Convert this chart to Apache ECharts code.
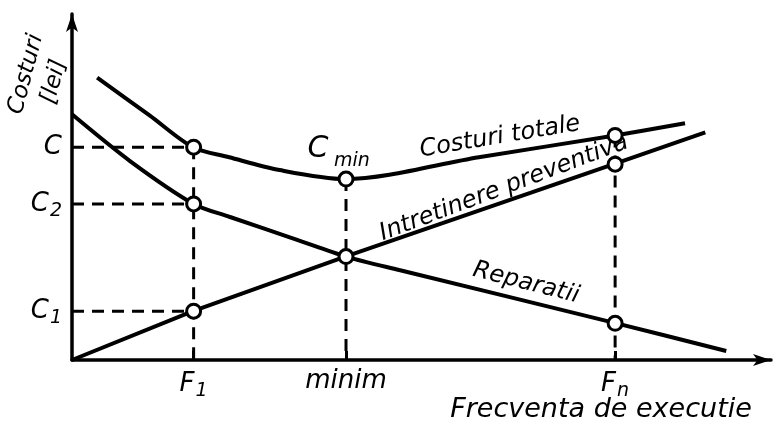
<!DOCTYPE html>
<html>
<head>
<meta charset="utf-8">
<script src="https://cdn.jsdelivr.net/npm/echarts@6/dist/echarts.min.js"></script>
<style>
html, body { margin: 0; padding: 0; background: #fff; }
#chart { width: 779px; height: 434px; }
</style>
</head>
<body>
<div id="chart"></div>
<script>
// frecventa (x) si costuri (y), in unitati relative 0..100
let totalX = [3.6, 11.1, 17.3, 22.5, 29.7, 39.1, 58.2, 77.7, 87.7];
let totalY = [81.6, 70.7, 61.5, 58.6, 54.9, 52.3, 58.6, 64.9, 68.4];
let preventX = [0, 17.3, 39.1, 77.5, 90.6];
let preventY = [0, 14.1, 29.9, 56.6, 65.8];
let repairX = [0, 8.3, 17.4, 22.5, 32.1, 39.2, 46.8, 77.9, 93.6];
let repairY = [71.0, 57.5, 45.1, 41.4, 34.8, 29.9, 26.0, 10.6, 2.6];

let xTicks = [17.4, 39.2, 77.7];
let xTickLabels = ['{b|F}{s|1}', '{b|minim}', '{b|F}{s|n}'];
let yTicks = [61.5, 45.1, 14.1];
let yTickLabels = ['{b|C}', '{b|C}{s|2}', '{b|C}{s|1}'];
let guideTop = [61.5, 52.3, 64.9]; // unde se opresc liniile punctate verticale

// cerculetele
let pointsX = [17.4, 17.4, 17.4, 39.2, 39.2, 77.7, 77.7, 77.7];
let pointsY = [61.5, 45.1, 14.1, 52.3, 29.9, 64.9, 56.6, 10.6];

let chartDom = document.getElementById('chart');
let myChart = echarts.init(chartDom);
let font = 'DejaVu Sans';

function zip(xs, ys) {
    return xs.map(function (x, i) { return [x, ys[i]]; });
}

let curveStyle = { color: '#000', width: 4 };
let dashStyle = { color: '#000', width: 3, type: [12, 8] };

let series = [
    { name: 'Costuri totale', type: 'line', data: zip(totalX, totalY), smooth: 0.3, showSymbol: false, lineStyle: curveStyle, z: 3 },
    { name: 'Intretinere preventiva', type: 'line', data: zip(preventX, preventY), smooth: false, showSymbol: false, lineStyle: curveStyle, z: 3 },
    { name: 'Reparatii', type: 'line', data: zip(repairX, repairY), smooth: 0.3, showSymbol: false, lineStyle: curveStyle, z: 3 }
];

// linii punctate orizontale (C, C2, C1) pana la F1
yTicks.forEach(function (y) {
    series.push({ type: 'line', data: [[0, y], [xTicks[0], y]], showSymbol: false, lineStyle: dashStyle, z: 2, silent: true });
});
// linii punctate verticale
xTicks.forEach(function (x, i) {
    series.push({ type: 'line', data: [[x, guideTop[i]], [x, 0]], showSymbol: false, lineStyle: dashStyle, z: 2, silent: true });
});

series.push({
    type: 'scatter',
    data: zip(pointsX, pointsY),
    symbol: 'circle',
    symbolSize: 14,
    itemStyle: { color: '#fff', borderColor: '#000', borderWidth: 3, opacity: 1 },
    z: 5
});

let textStyle = { fontFamily: font, fontStyle: 'italic', fill: '#000' };
let labelRich = {
    b: { fontFamily: font, fontStyle: 'italic', fontSize: 26, color: '#000' },
    s: { fontFamily: font, fontStyle: 'italic', fontSize: 19, color: '#000', padding: [14, 0, 0, 1] }
};

let option = {
    animation: false,
    backgroundColor: '#fff',
    grid: { left: 72, right: 8, top: 14, bottom: 74 },
    xAxis: {
        type: 'value',
        min: 0,
        max: 100,
        splitLine: { show: false },
        axisLine: { show: true, lineStyle: { color: '#000', width: 3.5 }, symbol: ['none', 'arrow'], symbolSize: [9, 18] },
        axisTick: { show: true, inside: true, length: 9, customValues: xTicks, lineStyle: { color: '#000', width: 3 } },
        axisLabel: {
            customValues: xTicks,
            margin: 8,
            rich: labelRich,
            formatter: function (v) { return xTickLabels[xTicks.indexOf(v)]; }
        }
    },
    yAxis: {
        type: 'value',
        min: 0,
        max: 100,
        splitLine: { show: false },
        axisLine: { show: true, lineStyle: { color: '#000', width: 3.5 }, symbol: ['none', 'arrow'], symbolSize: [9, 18] },
        axisTick: { show: false },
        axisLabel: {
            customValues: yTicks,
            margin: 10,
            rich: labelRich,
            formatter: function (v) { return yTickLabels[yTicks.indexOf(v)]; }
        }
    },
    series: series,
    graphic: [
        { type: 'text', x: 40, y: 78, rotation: 1.31, style: Object.assign({ text: 'Costuri\n[lei]', fontSize: 23, lineHeight: 29, align: 'center', verticalAlign: 'middle' }, textStyle) },
        { type: 'text', x: 601, y: 410, style: Object.assign({ text: 'Frecventa de executie', fontSize: 27, align: 'center', verticalAlign: 'middle' }, textStyle) },
        { type: 'text', x: 318, y: 149, style: Object.assign({ text: 'C', fontSize: 30, align: 'center', verticalAlign: 'middle' }, textStyle) },
        { type: 'text', x: 352, y: 161, style: Object.assign({ text: 'min', fontSize: 19, align: 'center', verticalAlign: 'middle' }, textStyle) },
        { type: 'text', x: 500, y: 137, rotation: 0.166, style: Object.assign({ text: 'Costuri totale', fontSize: 24, align: 'center', verticalAlign: 'middle' }, textStyle) },
        { type: 'text', x: 504, y: 188, rotation: 0.36, style: Object.assign({ text: 'Intretinere preventiva', fontSize: 24, align: 'center', verticalAlign: 'middle' }, textStyle) },
        { type: 'text', x: 526, y: 283, rotation: -0.25, style: Object.assign({ text: 'Reparatii', fontSize: 24, align: 'center', verticalAlign: 'middle' }, textStyle) }
    ]
};

myChart.setOption(option, true);

window.addEventListener('resize', () => {
    myChart.resize();
});
</script>
</body>
</html>
